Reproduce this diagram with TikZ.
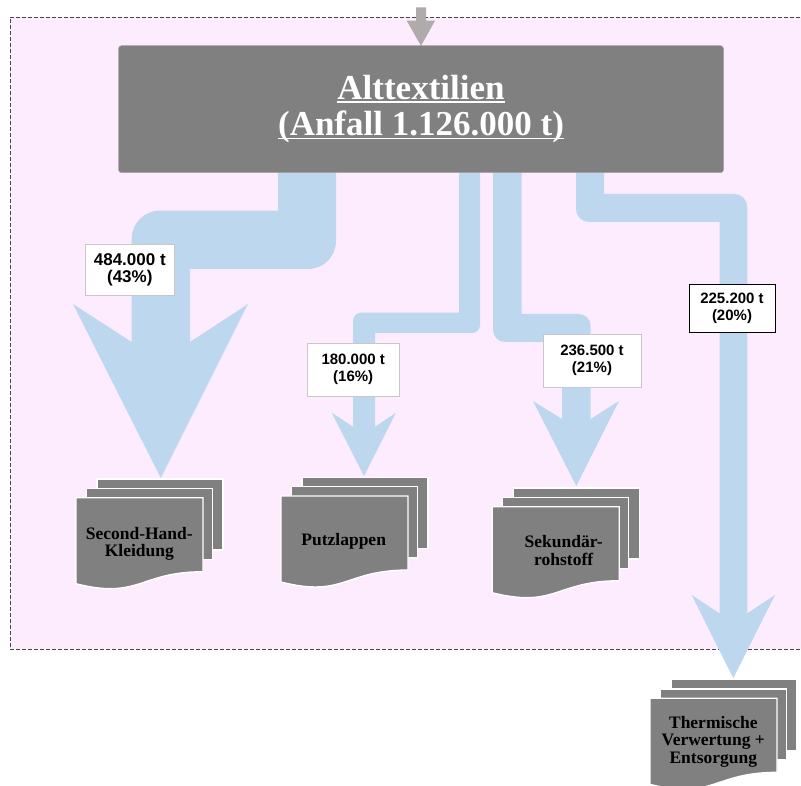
\documentclass[tikz,border=0pt]{standalone}
\usepackage{fontspec}
\setmainfont{Liberation Serif}
\newfontfamily\lblfont{Liberation Sans}
\definecolor{pinkbg}{RGB}{253,236,253}
\definecolor{flowblue}{RGB}{189,215,238}
\definecolor{boxgray}{RGB}{128,128,128}
\definecolor{arrowgray}{RGB}{175,171,171}
\definecolor{dashgray}{RGB}{70,70,70}
\definecolor{lblborder}{RGB}{200,200,200}
\newlength\myulw
\newcommand\myul[1]{\settowidth{\myulw}{#1}\rlap{\rule[-3.4pt]{\myulw}{1.6pt}}#1}
\tikzset{
  flow/.style={fill=flowblue},
  srcbox/.style={fill=boxgray, draw=boxgray!70!white, line width=0.5pt, rounded corners=3pt,
    minimum width=605pt, minimum height=127pt, inner sep=0pt, align=center, text=white,
    font=\fontsize{35}{36.7}\selectfont\bfseries},
  lbl/.style={draw=lblborder, fill=white, line width=0.8pt, inner sep=0pt, align=center,
    font=\lblfont\fontsize{15}{17}\selectfont\bfseries},
  sheet/.style={fill=boxgray, draw=white, line width=1.3pt},
  doctext/.style={inner sep=0pt, align=center, text=black,
    font=\fontsize{17.5}{17.5}\selectfont\bfseries}
}
\newcommand\mdoc[2]{%
  \path[sheet] ({#1+21},{#2-18.7}) rectangle ++(126,71);
  \path[sheet] ({#1+10.5},{#2-9.3}) rectangle ++(126,71);
  \path[sheet] (#1,#2) -- ({#1+127},#2) -- ({#1+127},{#2+74})
     .. controls ({#1+63.5},{#2+74}) and ({#1+63.5},{#2+102}) .. (#1,{#2+86}) -- cycle;
}
\begin{document}
\begin{tikzpicture}[x=1pt,y=-1pt]
\clip (0,0) rectangle (801,786);
\fill[white] (0,0) rectangle (801,786);
% region
\fill[pinkbg] (10,17.3) rectangle (830,649);
\draw[dashgray, line width=0.9pt, dash pattern=on 4pt off 2pt] (830,17.3) -- (10,17.3) -- (10,649) -- (830,649);
% flows
\fill[flow] (278,165) -- (278,210.7) -- (159.7,210.7) .. controls (144.2,210.7) and (131.7,223.2) .. (131.7,238.7)
  -- (131.7,342) -- (73,304) -- (160.8,478) -- (248,304) -- (190,342) -- (190,269)
  -- (308,269) .. controls (323.5,269) and (336,256.5) .. (336,241) -- (336,165) -- cycle;
\fill[flow] (459,165) -- (459,312.7) -- (361,312.7) .. controls (356.6,312.7) and (353,316.3) .. (353,320.7)
  -- (353,426.7) -- (331.7,412.7) -- (364,476) -- (396,412.7) -- (375,426.7) -- (375,333)
  -- (472,333) .. controls (476.4,333) and (480,329.4) .. (480,325) -- (480,165) -- cycle;
\fill[flow] (493,165) -- (493,330) .. controls (493,336.6) and (498.4,342) .. (505,342)
  -- (562,342) -- (562,419) -- (533,401) -- (576.3,486) -- (619,401) -- (590.7,419)
  -- (590.7,326) .. controls (590.7,319.4) and (585.3,314) .. (578.7,314) -- (521.7,314) -- (521.7,165) -- cycle;
\fill[flow] (576,165) -- (576,209) .. controls (576,216.2) and (581.8,222) .. (589,222)
  -- (719.5,222) -- (719.5,613.3) -- (691.7,595) -- (733.3,678.3) -- (775,595) -- (747.3,613.3)
  -- (747.3,207) .. controls (747.3,199.8) and (741.5,194) .. (734.3,194) -- (604,194) -- (604,165) -- cycle;
% incoming arrow
\fill[arrowgray] (416,7.3) -- (426,7.3) -- (426,20.7) -- (435,20.7) -- (421,45.9) -- (406.7,20.7) -- (416,20.7) -- cycle;
% source box
\node[srcbox] (src) at (421,109.2) {\myul{Alttextilien}\\\myul{(Anfall 1.126.000 t)}};
% labels
\node[lbl, minimum width=88.3pt, minimum height=51.7pt, font=\lblfont\fontsize{17}{17.5}\selectfont\bfseries] (l1) at (129.8,269.8) {484.000 t\\(43\%)};
\node[lbl, minimum width=92.3pt, minimum height=53.7pt] (l2) at (353.2,369.8) {180.000 t\\(16\%)};
\node[lbl, minimum width=98pt, minimum height=53pt] (l3) at (592,360.5) {236.500 t\\(21\%)};
\node[lbl, draw=black, minimum width=86pt, minimum height=48.7pt] (l4) at (732,308.3) {225.200 t\\(20\%)};
% documents
\mdoc{76}{497.7}
\node[doctext] (d1) at (139.3,544) {Second-Hand-\\Kleidung};
\mdoc{281}{496}
\node[doctext] (d2) at (343.7,540.8) {Putzlappen};
\mdoc{492.3}{506.7}
\node[doctext] (d3) at (563.7,550.3) {Sekundär-\\rohstoff};
\mdoc{650}{698.3}
\node[doctext] (d4) at (713.3,741.6) {Thermische\\Verwertung +\\Entsorgung};
\end{tikzpicture}
\end{document}
